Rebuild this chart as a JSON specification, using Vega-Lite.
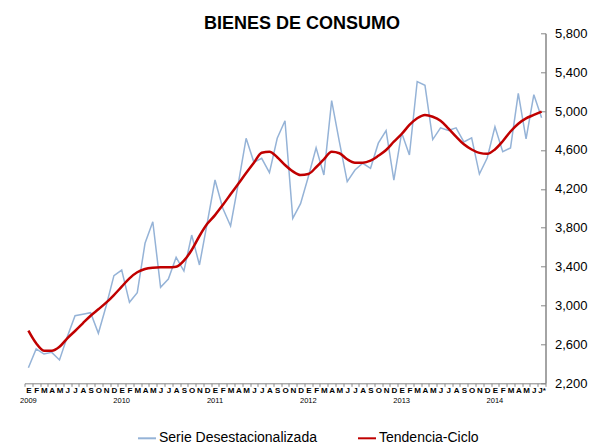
{
  "$schema": "https://vega.github.io/schema/vega-lite/v6.json",
  "width": 521,
  "height": 350,
  "autosize": {"type": "none"},
  "padding": {"left": 24.5, "top": 33.3, "right": 46.5, "bottom": 60.7},
  "background": "white",
  "config": {
    "view": {"stroke": null},
    "font": "Liberation Sans"
  },
  "title": {
    "text": "BIENES DE CONSUMO",
    "font": "Liberation Sans",
    "fontSize": 18,
    "fontWeight": "bold",
    "color": "black",
    "anchor": "middle",
    "dx": 17,
    "offset": -6
  },
  "data": {
    "values": [
      {"m": "2009-01", "sa": 2360, "tc": 2741},
      {"m": "2009-02", "sa": 2553, "tc": 2611},
      {"m": "2009-03", "sa": 2501, "tc": 2535},
      {"m": "2009-04", "sa": 2518, "tc": 2535},
      {"m": "2009-05", "sa": 2440, "tc": 2576},
      {"m": "2009-06", "sa": 2679, "tc": 2663},
      {"m": "2009-07", "sa": 2895, "tc": 2738},
      {"m": "2009-08", "sa": 2910, "tc": 2817},
      {"m": "2009-09", "sa": 2926, "tc": 2895},
      {"m": "2009-10", "sa": 2714, "tc": 2961},
      {"m": "2009-11", "sa": 2995, "tc": 3029},
      {"m": "2009-12", "sa": 3307, "tc": 3108},
      {"m": "2010-01", "sa": 3365, "tc": 3194},
      {"m": "2010-02", "sa": 3033, "tc": 3280},
      {"m": "2010-03", "sa": 3132, "tc": 3342},
      {"m": "2010-04", "sa": 3640, "tc": 3376},
      {"m": "2010-05", "sa": 3862, "tc": 3389},
      {"m": "2010-06", "sa": 3187, "tc": 3393},
      {"m": "2010-07", "sa": 3273, "tc": 3393},
      {"m": "2010-08", "sa": 3496, "tc": 3399},
      {"m": "2010-09", "sa": 3355, "tc": 3461},
      {"m": "2010-10", "sa": 3725, "tc": 3571},
      {"m": "2010-11", "sa": 3417, "tc": 3715},
      {"m": "2010-12", "sa": 3850, "tc": 3840},
      {"m": "2011-01", "sa": 4291, "tc": 3930},
      {"m": "2011-02", "sa": 4000, "tc": 4034},
      {"m": "2011-03", "sa": 3818, "tc": 4144},
      {"m": "2011-04", "sa": 4257, "tc": 4253},
      {"m": "2011-05", "sa": 4720, "tc": 4363},
      {"m": "2011-06", "sa": 4473, "tc": 4469},
      {"m": "2011-07", "sa": 4514, "tc": 4572},
      {"m": "2011-08", "sa": 4366, "tc": 4582},
      {"m": "2011-09", "sa": 4720, "tc": 4525},
      {"m": "2011-10", "sa": 4901, "tc": 4445},
      {"m": "2011-11", "sa": 3897, "tc": 4380},
      {"m": "2011-12", "sa": 4048, "tc": 4342},
      {"m": "2012-01", "sa": 4325, "tc": 4353},
      {"m": "2012-02", "sa": 4623, "tc": 4422},
      {"m": "2012-03", "sa": 4343, "tc": 4504},
      {"m": "2012-04", "sa": 5107, "tc": 4582},
      {"m": "2012-05", "sa": 4680, "tc": 4566},
      {"m": "2012-06", "sa": 4274, "tc": 4504},
      {"m": "2012-07", "sa": 4394, "tc": 4469},
      {"m": "2012-08", "sa": 4463, "tc": 4469},
      {"m": "2012-09", "sa": 4411, "tc": 4490},
      {"m": "2012-10", "sa": 4670, "tc": 4540},
      {"m": "2012-11", "sa": 4800, "tc": 4600},
      {"m": "2012-12", "sa": 4290, "tc": 4685},
      {"m": "2013-01", "sa": 4776, "tc": 4764},
      {"m": "2013-02", "sa": 4548, "tc": 4857},
      {"m": "2013-03", "sa": 5304, "tc": 4926},
      {"m": "2013-04", "sa": 5265, "tc": 4960},
      {"m": "2013-05", "sa": 4707, "tc": 4942},
      {"m": "2013-06", "sa": 4828, "tc": 4901},
      {"m": "2013-07", "sa": 4800, "tc": 4823},
      {"m": "2013-08", "sa": 4828, "tc": 4737},
      {"m": "2013-09", "sa": 4683, "tc": 4658},
      {"m": "2013-10", "sa": 4724, "tc": 4605},
      {"m": "2013-11", "sa": 4352, "tc": 4570},
      {"m": "2013-12", "sa": 4517, "tc": 4560},
      {"m": "2014-01", "sa": 4838, "tc": 4605},
      {"m": "2014-02", "sa": 4582, "tc": 4690},
      {"m": "2014-03", "sa": 4621, "tc": 4790},
      {"m": "2014-04", "sa": 5183, "tc": 4870},
      {"m": "2014-05", "sa": 4714, "tc": 4925},
      {"m": "2014-06", "sa": 5169, "tc": 4960},
      {"m": "2014-07", "sa": 4931, "tc": 4995}
    ]
  },
  "encoding": {
    "x": {
      "field": "m",
      "type": "ordinal",
      "bandPosition": 0.5,
      "scale": {"type": "band", "paddingInner": 0, "paddingOuter": 0}
    },
    "color": {
      "type": "nominal",
      "scale": {
        "domain": ["Serie Desestacionalizada", "Tendencia-Ciclo"],
        "range": ["#95B3D7", "#C00000"]
      },
      "legend": {
        "title": null,
        "orient": "none",
        "direction": "horizontal",
        "legendX": 112.5,
        "legendY": 395,
        "symbolType": "stroke",
        "symbolSize": 324,
        "symbolStrokeWidth": 2,
        "labelFont": "Liberation Sans",
        "labelFontSize": 14,
        "labelColor": "black",
        "labelOffset": 2,
        "labelLimit": 300,
        "columnPadding": 37
      }
    }
  },
  "layer": [
    {
      "mark": {"type": "line", "strokeWidth": 1.5, "interpolate": "linear"},
      "encoding": {
        "y": {
          "field": "sa",
          "type": "quantitative",
          "scale": {"domain": [2200, 5800], "zero": false, "nice": false},
          "axis": {
            "orient": "right",
            "values": [2200, 2600, 3000, 3400, 3800, 4200, 4600, 5000, 5400, 5800],
            "format": ",.0f",
            "grid": false,
            "domainColor": "#868686",
            "domainWidth": 1.5,
            "tickColor": "#868686",
            "tickSize": -5,
            "labelPadding": 14,
            "labelFont": "Liberation Sans",
            "labelFontSize": 13,
            "labelColor": "black",
            "title": null
          }
        },
        "color": {"datum": "Serie Desestacionalizada"},
        "x": {
          "field": "m",
          "type": "ordinal",
          "axis": {
            "orient": "bottom",
            "title": null,
            "tickBand": "extent",
            "labelAngle": 0,
            "labelOverlap": false,
            "labelFont": "Liberation Sans",
            "labelFontSize": 8,
            "labelFontWeight": "bold",
            "labelColor": "black",
            "labelPadding": 0,
            "tickSize": 3,
            "tickColor": "#868686",
            "domainColor": "#868686",
            "labelExpr": "datum.value == '2014-07' ? 'J*' : substring('EFMAMJJASOND', toNumber(substring(datum.value, 5, 7)) - 1, toNumber(substring(datum.value, 5, 7)))"
          }
        }
      }
    },
    {
      "mark": {"type": "line", "strokeWidth": 2.5, "interpolate": "monotone"},
      "encoding": {
        "y": {
          "field": "tc",
          "type": "quantitative",
          "scale": {"domain": [2200, 5800], "zero": false, "nice": false},
          "axis": {
            "orient": "right",
            "values": [2200, 2600, 3000, 3400, 3800, 4200, 4600, 5000, 5400, 5800],
            "format": ",.0f",
            "grid": false,
            "domainColor": "#868686",
            "domainWidth": 1.5,
            "tickColor": "#868686",
            "tickSize": -5,
            "labelPadding": 14,
            "labelFont": "Liberation Sans",
            "labelFontSize": 13,
            "labelColor": "black",
            "title": null
          }
        },
        "color": {"datum": "Tendencia-Ciclo"},
        "x": {
          "field": "m",
          "type": "ordinal",
          "axis": {
            "orient": "bottom",
            "title": null,
            "domain": false,
            "ticks": false,
            "tickSize": 0,
            "labelAngle": 0,
            "labelOverlap": false,
            "labelFont": "Liberation Sans",
            "labelFontSize": 7.5,
            "labelColor": "black",
            "labelPadding": 13,
            "labelExpr": "substring(datum.value, 5, 7) == '01' ? substring(datum.value, 0, 4) : ''"
          }
        }
      }
    }
  ],
  "resolve": {"axis": {"x": "independent"}}
}
